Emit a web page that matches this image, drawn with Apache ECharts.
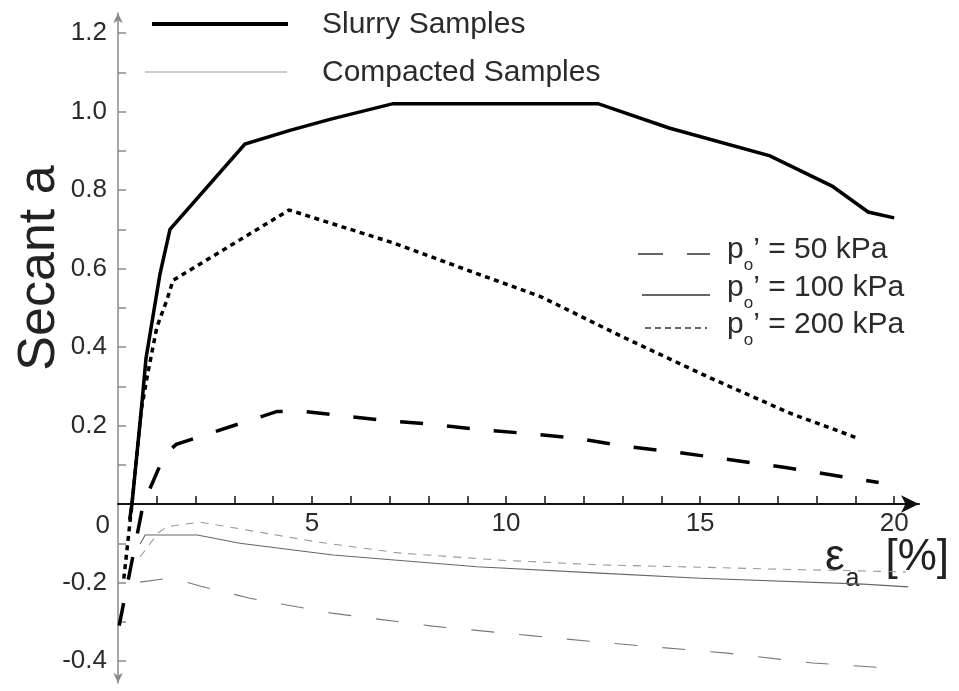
<!DOCTYPE html>
<html>
<head>
<meta charset="utf-8">
<script src="https://cdn.jsdelivr.net/npm/echarts@6/dist/echarts.min.js"></script>
<style>
  html, body { margin: 0; padding: 0; background: #fff; }
  #chart { width: 959px; height: 691px; }
</style>
</head>
<body>
<div id="chart"></div>
<script>
// Axis ticks and labels
const strainTicks = [1, 2, 3, 4, 5, 6, 7, 8, 9, 10, 11, 12, 13, 14, 15, 16, 17, 18, 19, 20];
const strainLabels = [5, 10, 15, 20];
const secantTicks = [-0.4, -0.3, -0.2, -0.1, 0.1, 0.2, 0.3, 0.4, 0.5, 0.6, 0.7, 0.8, 0.9, 1.0, 1.1, 1.2];
const secantLabels = [-0.4, -0.2, 0.2, 0.4, 0.6, 0.8, 1.0, 1.2];

// Slurry samples: [axial strain %, secant a]
const slurry50 = [[0.03, -0.31], [0.65, 0.0], [1.2, 0.125], [1.5, 0.152], [4.1, 0.236], [4.8, 0.236],
  [6.75, 0.214], [8.0, 0.204], [9.3, 0.19], [10.5, 0.18], [11.8, 0.168], [13.0, 0.148],
  [14.3, 0.133], [15.5, 0.117], [17.2, 0.093], [19.6, 0.055]];
const slurry100 = [[0.3, -0.04], [0.36, 0.0], [0.62, 0.26], [0.72, 0.37], [1.08, 0.585], [1.34, 0.70],
  [3.27, 0.917], [4.43, 0.952], [5.46, 0.98], [7.09, 1.02], [12.37, 1.02], [14.2, 0.958],
  [16.8, 0.887], [18.4, 0.81], [19.33, 0.744], [20.0, 0.729]];
const slurry200 = [[0.15, -0.19], [0.36, 0.0], [0.6, 0.24], [0.77, 0.334], [1.0, 0.45], [1.26, 0.52],
  [1.42, 0.57], [4.41, 0.749], [7.1, 0.665], [9.0, 0.596], [10.9, 0.528], [13.0, 0.426],
  [15.2, 0.324], [17.3, 0.232], [19.0, 0.17]];

// Compacted samples
const compacted50 = [[0.57, -0.199], [1.16, -0.191], [1.8, -0.2], [2.11, -0.209], [3.4, -0.24], [5.5, -0.278],
  [8.1, -0.311], [10.7, -0.336], [12.4, -0.352], [15.7, -0.38], [17.9, -0.405], [19.9, -0.418]];
const compacted100 = [[0.57, -0.102], [0.7, -0.079], [2.04, -0.079], [3.14, -0.1], [5.54, -0.13],
  [9.25, -0.16], [12.4, -0.176], [15.0, -0.189], [19.2, -0.204], [20.36, -0.211]];
const compacted200 = [[0.57, -0.135], [1.03, -0.074], [1.26, -0.058], [2.11, -0.046], [5.09, -0.096],
  [7.27, -0.125], [9.85, -0.143], [12.4, -0.155], [15.0, -0.161], [17.0, -0.166], [20.3, -0.173]];

const FONT = "'Liberation Sans', Arial, Helvetica, sans-serif";
const TEXT = '#2b2b2b';

// Plot frame
const GRID = { left: 118, right: 40, top: 13, bottom: 8 };
const CHART_H = 691;
const Y_MIN = -0.456;
const Y_MAX = 1.251;
// Raise the strain axis from the bottom edge of the grid up to secant a = 0
const gridHeight = CHART_H - GRID.top - GRID.bottom;
const strainAxisOffset = -gridHeight * (0 - Y_MIN) / (Y_MAX - Y_MIN);

function lineSeries(name, data, color, width, dash) {
  return {
    name: name,
    type: 'line',
    data: data,
    symbol: 'none',
    smooth: false,
    silent: true,
    lineStyle: { color: color, width: width, type: dash || 'solid', cap: 'butt', join: 'miter' }
  };
}

function poLabel(kPa, top) {
  return {
    type: 'text',
    x: 727,
    y: top,
    style: {
      text: '{p|p}{o|o}{t|\u2019 = ' + kPa + ' kPa}',
      verticalAlign: 'top',
      align: 'left',
      rich: {
        p: { fontSize: 30, fontFamily: FONT, lineHeight: 34, verticalAlign: 'top', fill: TEXT },
        o: { fontSize: 17, fontFamily: FONT, lineHeight: 17, verticalAlign: 'top', padding: [22, 0, 0, 0], fill: TEXT },
        t: { fontSize: 30, fontFamily: FONT, lineHeight: 34, verticalAlign: 'top', fill: TEXT }
      }
    }
  };
}

const chart = echarts.init(document.getElementById('chart'), null, { renderer: 'canvas' });

chart.setOption({
  animation: false,
  backgroundColor: '#fff',
  grid: { left: GRID.left, right: GRID.right, top: GRID.top, bottom: GRID.bottom, outerBoundsMode: 'none', containLabel: false },
  xAxis: {
    type: 'value',
    position: 'bottom',
    offset: strainAxisOffset,
    min: 0,
    max: 20.64,
    interval: 1,
    axisLine: {
      show: true, onZero: false,
      lineStyle: { color: '#111', width: 2 },
      symbol: ['none', 'arrow'],
      symbolSize: [13, 18]
    },
    axisTick: { show: true, inside: true, length: 8, customValues: strainTicks, lineStyle: { color: '#111', width: 1.5 } },
    axisLabel: {
      show: true,
      showMinLabel: false,
      showMaxLabel: false,
      hideOverlap: false,
      formatter: function (v) { return strainLabels.indexOf(v) >= 0 ? String(v) : ''; },
      margin: 7, fontSize: 26, fontFamily: FONT, color: TEXT
    },
    splitLine: { show: false }
  },
  yAxis: {
    type: 'value',
    min: Y_MIN,
    max: Y_MAX,
    axisLine: {
      show: true, onZero: false,
      lineStyle: { color: '#8a8a8a', width: 1.5 },
      symbol: ['arrow', 'arrow'],
      symbolSize: [7, 10]
    },
    axisTick: { show: true, inside: true, length: 8, customValues: secantTicks, lineStyle: { color: '#8a8a8a', width: 1.5 } },
    axisLabel: {
      customValues: secantLabels,
      formatter: function (v) { return v.toFixed(1); },
      margin: 11, fontSize: 26, fontFamily: FONT, color: TEXT
    },
    splitLine: { show: false }
  },
  series: [
    lineSeries('Compacted 50 kPa', compacted50, '#777', 1.1, [23, 25]),
    lineSeries('Compacted 100 kPa', compacted100, '#666', 1.1),
    lineSeries('Compacted 200 kPa', compacted200, '#999', 1.1, [8, 7]),
    lineSeries('Slurry 50 kPa', slurry50, '#000', 3.5, [23, 24]),
    lineSeries('Slurry 100 kPa', slurry100, '#000', 3.5),
    lineSeries('Slurry 200 kPa', slurry200, '#000', 3.5, [5, 4.5])
  ],
  graphic: [
    // sample-type key
    { type: 'line', shape: { x1: 152, y1: 24, x2: 288, y2: 24 }, style: { stroke: '#000', lineWidth: 4 } },
    { type: 'line', shape: { x1: 145, y1: 72, x2: 287, y2: 72 }, style: { stroke: '#999', lineWidth: 1 } },
    { type: 'text', x: 322, y: 25, style: { text: 'Slurry Samples', font: '30px ' + FONT, fill: TEXT, verticalAlign: 'middle' } },
    { type: 'text', x: 322, y: 73, style: { text: 'Compacted Samples', font: '30px ' + FONT, fill: TEXT, verticalAlign: 'middle' } },

    // confining pressure key
    { type: 'line', shape: { x1: 638, y1: 254, x2: 710, y2: 254 }, style: { stroke: '#333', lineWidth: 1.5, lineDash: [25, 24] } },
    { type: 'line', shape: { x1: 642, y1: 295, x2: 710, y2: 295 }, style: { stroke: '#333', lineWidth: 1.5 } },
    { type: 'line', shape: { x1: 645, y1: 328, x2: 707, y2: 328 }, style: { stroke: '#333', lineWidth: 1.5, lineDash: [6, 4] } },
    poLabel(50, 234.6),
    poLabel(100, 272.6),
    poLabel(200, 309.6),

    // origin label
    { type: 'text', x: 110, y: 526, style: { text: '0', font: '26px ' + FONT, fill: TEXT, align: 'right', verticalAlign: 'middle' } },

    // axis titles
    { type: 'text', x: 40, y: 268, rotation: Math.PI / 2,
      style: { text: 'Secant a', font: '52px ' + FONT, fill: '#222', align: 'center', verticalAlign: 'middle' } },
    { type: 'text', x: 825, y: 536,
      style: {
        text: '{e|\u03b5}{a|a}{b|[%]}',
        verticalAlign: 'top', align: 'left',
        rich: {
          e: { fontSize: 44, fontFamily: FONT, lineHeight: 50, verticalAlign: 'top', fill: '#222' },
          a: { fontSize: 25, fontFamily: FONT, lineHeight: 25, verticalAlign: 'top', padding: [31, 0, 0, 1], fill: '#222' },
          b: { fontSize: 44, fontFamily: FONT, lineHeight: 50, verticalAlign: 'top', padding: [0, 0, 0, 26], fill: '#222' }
        }
      }
    }
  ]
});
</script>
</body>
</html>
